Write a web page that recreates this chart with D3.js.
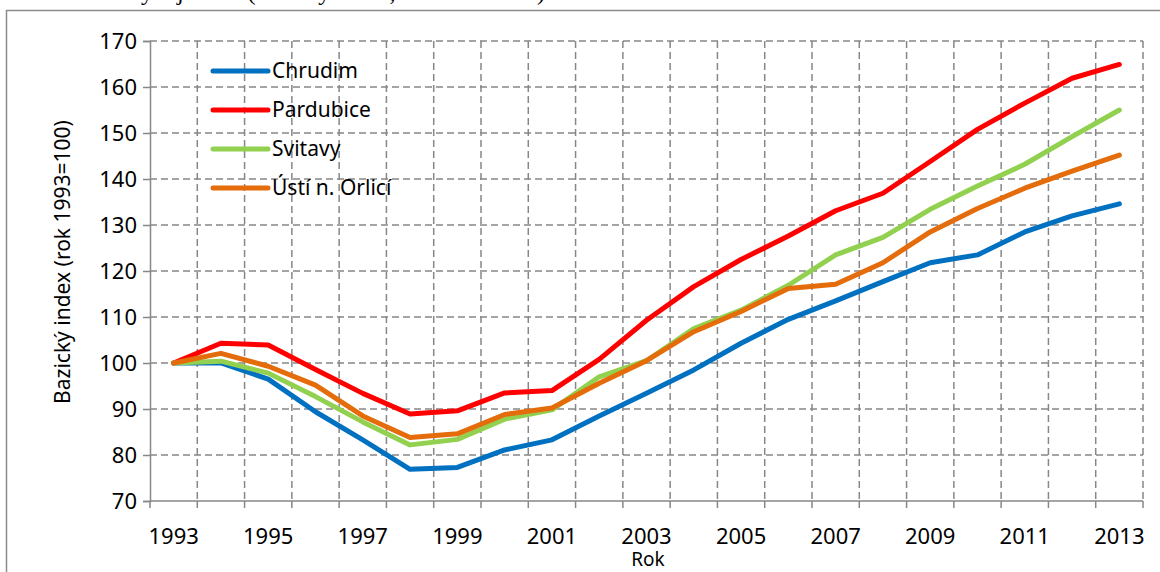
<!DOCTYPE html>
<html>
<head>
<meta charset="utf-8">
<script src="https://cdn.jsdelivr.net/npm/d3@7"></script>
<style>
  body { margin: 0; background: #fff; }
  text { font-family: "Noto Sans", sans-serif; fill: #000; }
</style>
</head>
<body>
<svg width="1160" height="572"></svg>
<script>
var years = ["1993","1994","1995","1996","1997","1998","1999","2000","2001","2002","2003",
             "2004","2005","2006","2007","2008","2009","2010","2011","2012","2013"];

var chrudim   = [100, 100.0, 96.5, 89.4, 83.3, 76.9, 77.3, 81.1, 83.3, 88.5, 93.4,
                 98.5, 104.3, 109.5, 113.5, 117.7, 121.8, 123.5, 128.5, 132.0, 134.6];
var pardubice = [100, 104.3, 103.9, 98.6, 93.4, 88.9, 89.6, 93.5, 94.0, 100.8, 109.3,
                 116.6, 122.5, 127.6, 133.1, 136.9, 143.8, 150.8, 156.5, 161.9, 164.9];
var svitavy   = [100, 100.4, 97.8, 92.7, 87.2, 82.2, 83.4, 87.8, 89.8, 97.0, 100.5,
                 107.5, 111.5, 116.9, 123.5, 127.3, 133.4, 138.5, 143.2, 149.2, 155.0];
var usti      = [100, 102.1, 99.3, 95.2, 88.5, 83.8, 84.6, 88.8, 90.2, 95.6, 100.5,
                 106.8, 111.2, 116.2, 117.1, 121.8, 128.5, 133.6, 138.0, 141.7, 145.2];

var seriesNames = ["Chrudim", "Pardubice", "Svitavy", "Ústí n. Orlicí"];
var seriesValues = [chrudim, pardubice, svitavy, usti];
var seriesColors = ["#0070C0", "#FF0000", "#92D050", "#E46C0A"];
var yTicks = [70, 80, 90, 100, 110, 120, 130, 140, 150, 160, 170];

var svg = d3.select("svg");
var plotLeft = 150, plotRight = 1143, plotTop = 41, plotBottom = 501;

var x = d3.scaleBand().domain(years).range([plotLeft, plotRight]).paddingInner(0).paddingOuter(0);
var y = d3.scaleLinear().domain([70, 170]).range([plotBottom, plotTop]);

// cut-off caption of the page above the chart
svg.append("text")
    .attr("x", 545).attr("y", 0)
    .attr("text-anchor", "end")
    .style("font-family", "'Liberation Serif', serif")
    .style("font-size", "24px")
    .text("Vývoj mezd (bazický index, rok 1993=100)");

// chart frame
svg.append("rect")
    .attr("x", 6.5).attr("y", 10.5)
    .attr("width", 1300).attr("height", 700)
    .attr("fill", "none")
    .attr("stroke", "#8c8c8c")
    .attr("stroke-width", 1.5);

var grid = svg.append("g")
    .attr("stroke", "#878787")
    .attr("stroke-width", 1.5)
    .attr("stroke-dasharray", "7,4");

// horizontal grid
grid.selectAll(".hg")
  .data(yTicks.filter(function(d) { return d > 70; }))
  .enter().append("line")
    .attr("x1", plotLeft).attr("x2", plotRight)
    .attr("y1", function(d) { return y(d); })
    .attr("y2", function(d) { return y(d); });

// vertical grid at category boundaries
var bounds = years.slice(1).map(function(d) { return x(d); }).concat([plotRight]);
grid.selectAll(".vg")
  .data(bounds)
  .enter().append("line")
    .attr("x1", function(d) { return d; }).attr("x2", function(d) { return d; })
    .attr("y1", plotTop).attr("y2", plotBottom);

// y axis
var yAxis = svg.append("g")
    .attr("transform", "translate(" + plotLeft + ",0)")
    .call(d3.axisLeft(y).tickValues(yTicks).tickSize(7).tickPadding(6));
yAxis.select(".domain").attr("stroke", "#878787").attr("stroke-width", 1.5);
yAxis.selectAll(".tick line").attr("stroke", "#878787").attr("stroke-width", 1.5);
yAxis.selectAll(".tick text")
    .style("font-size", "22px")
    .style("font-family", "'Noto Sans', sans-serif");

// x axis
var xg = svg.append("g");
xg.append("line")
    .attr("x1", plotLeft).attr("x2", plotRight)
    .attr("y1", plotBottom).attr("y2", plotBottom)
    .attr("stroke", "#878787").attr("stroke-width", 1.5);
xg.selectAll(".xt")
  .data([plotLeft].concat(bounds))
  .enter().append("line")
    .attr("x1", function(d) { return d; }).attr("x2", function(d) { return d; })
    .attr("y1", plotBottom).attr("y2", plotBottom + 7)
    .attr("stroke", "#878787").attr("stroke-width", 1.5);
xg.selectAll(".xl")
  .data(years.filter(function(d, i) { return i % 2 === 0; }))
  .enter().append("text")
    .attr("x", function(d) { return x(d) + x.bandwidth() / 2; })
    .attr("y", 544)
    .attr("text-anchor", "middle")
    .style("font-size", "22px")
    .text(function(d) { return d; });

// axis titles
svg.append("text")
    .attr("x", 648).attr("y", 566)
    .attr("text-anchor", "middle")
    .style("font-size", "19px")
    .text("Rok");

svg.append("text")
    .attr("transform", "translate(70,262) rotate(-90)")
    .attr("text-anchor", "middle")
    .style("font-size", "21px")
    .text("Bazický index (rok 1993=100)");

// lines
var line = d3.line()
    .x(function(d, i) { return x(years[i]) + x.bandwidth() / 2; })
    .y(function(d) { return y(d); });

svg.append("g").selectAll("path")
  .data(seriesValues)
  .enter().append("path")
    .attr("d", line)
    .attr("fill", "none")
    .attr("stroke", function(d, i) { return seriesColors[i]; })
    .attr("stroke-width", 5)
    .attr("stroke-linejoin", "round")
    .attr("stroke-linecap", "round");

// legend
var legend = svg.append("g").selectAll("g")
  .data(seriesNames)
  .enter().append("g")
    .attr("transform", function(d, i) { return "translate(213," + (71 + i * 39) + ")"; });

legend.append("line")
    .attr("x1", 0).attr("x2", 55)
    .attr("stroke", function(d, i) { return seriesColors[i]; })
    .attr("stroke-width", 5)
    .attr("stroke-linecap", "round");

legend.append("text")
    .attr("x", 59).attr("dy", "0.35em")
    .style("font-size", "21px")
    .text(function(d) { return d; });
</script>
</body>
</html>
